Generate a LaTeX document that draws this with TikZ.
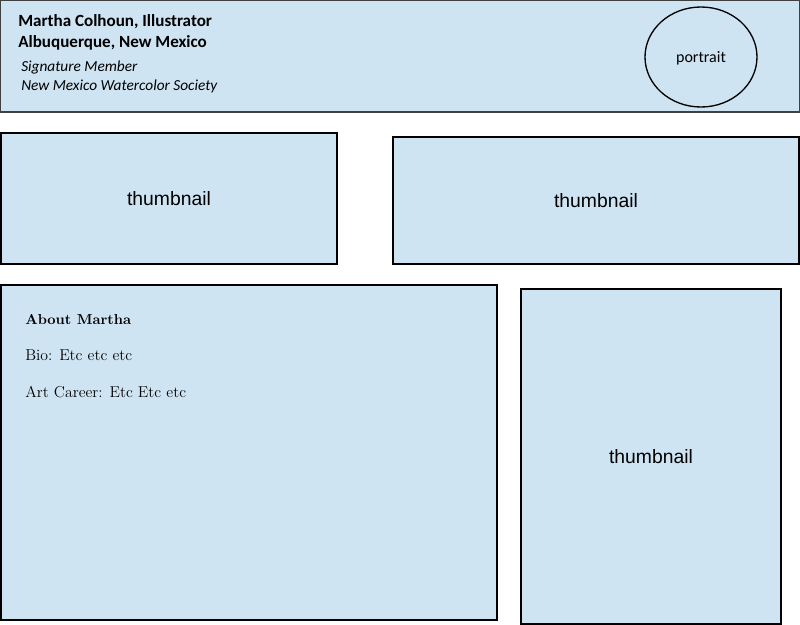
\documentclass[tikz,border=0pt]{standalone}
\usepackage{fontspec}
\newfontfamily\calfont{Carlito}
\newfontfamily\arialfont{Liberation Sans}
\usetikzlibrary{fit,shapes.geometric}
\definecolor{paneblue}{HTML}{CFE4F3}
\definecolor{headgray}{HTML}{404040}
\tikzset{
  panel/.style={draw=black, line width=1pt, fill=paneblue, inner sep=0pt},
  headpanel/.style={draw=headgray, line width=0.8pt, fill=paneblue, inner sep=0pt},
  thumbtext/.style={font=\arialfont\fontsize{14.5}{16}\selectfont, anchor=base, inner sep=0pt},
  headbold/.style={font=\calfont\bfseries\fontsize{12.8}{14}\selectfont, anchor=base west, inner sep=0pt},
  headital/.style={font=\calfont\itshape\fontsize{11.5}{13}\selectfont, anchor=base west, inner sep=0pt},
  abouttext/.style={font=\fontsize{11.8}{13}\selectfont, anchor=base west, inner sep=0pt}
}
\begin{document}
\begin{tikzpicture}[x=0.75pt,y=-0.75pt]
\useasboundingbox (0,0) rectangle (800,625);
% header
\node[headpanel, fit={(0.5,0.5)(799.5,112)}] (header) {};
\node[headbold] (name) at (18,26) {Martha Colhoun, Illustrator};
\node[headbold] (city) at (18,47) {Albuquerque, New Mexico};
\node[headital] (sig) at (21,71) {Signature Member};
\node[headital] (soc) at (21,90) {New Mexico Watercolor Society};
\node[draw=black, line width=1pt, ellipse, minimum width=84pt, minimum height=75pt, inner sep=0pt] (portrait) at (701,57) {};
\node[font=\calfont\fontsize{12}{13}\selectfont, anchor=base, inner sep=0pt] (portraitlabel) at (701,62) {portrait};
% thumbnails row
\node[panel, fit={(1,133)(337,264)}] (thumbA) {};
\node[thumbtext] (thumbAlabel) at (169,205) {thumbnail};
\node[panel, fit={(393,137)(799,264)}] (thumbB) {};
\node[thumbtext] (thumbBlabel) at (596,207) {thumbnail};
% about
\node[panel, fit={(1,285)(497,620)}] (about) {};
\node[abouttext, font=\bfseries\fontsize{10.8}{12}\selectfont] (abouthead) at (25,324) {About Martha};
\node[abouttext] (bio) at (25,360) {Bio: Etc etc etc};
\node[abouttext] (career) at (25,397) {Art Career: Etc Etc etc};
% tall thumbnail
\node[panel, fit={(521,289)(781,624)}] (thumbC) {};
\node[thumbtext] (thumbClabel) at (651,463) {thumbnail};
\end{tikzpicture}
\end{document}
